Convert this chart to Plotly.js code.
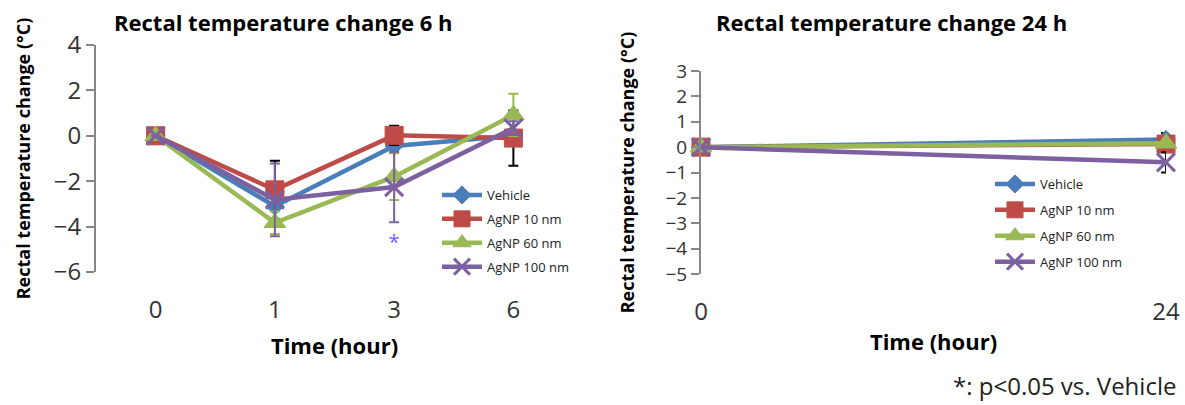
<!DOCTYPE html>
<html>
<head>
<meta charset="utf-8">
<script src="https://cdn.plot.ly/plotly-3.0.1.min.js"></script>
<style>html,body{margin:0;padding:0;background:#fff}#chart{width:1185px;height:405px}</style>
</head>
<body>
<div id="chart"></div>
<script>
// ---- data ----
const seriesNames = ['Vehicle', 'AgNP 10 nm', 'AgNP 60 nm', 'AgNP 100 nm'];
const seriesColors = ['#4a7ebb', '#be4b48', '#98b954', '#7d60a0'];
const seriesSymbols = ['diamond', 'square', 'triangle-up', 'x-thin'];

// 6 h panel
const time6 = ['0', '1', '3', '6'];
const vehicle6 = [0, -3.1, -0.45, 0.0];
const agnp10_6 = [0, -2.38, 0.02, -0.1];
const agnp60_6 = [0, -3.83, -1.8, 0.92];
const agnp100_6 = [0, -2.82, -2.26, 0.34];
const err10_6 = [null, 1.28, 0.42, 1.22];
const err60_6 = [null, 0.5, 1.03, 0.93];
const err100_6 = [null, 1.6, 1.55, 0.3];
const sigTime6 = ['3'];
const sigValue6 = [-4.76];

// 24 h panel
const time24 = [0, 24];
const vehicle24 = [0, 0.3];
const agnp10_24 = [0, 0.12];
const agnp60_24 = [0, 0.15];
const agnp100_24 = [0, -0.6];
const errV_24 = [null, 0.26];
const err100_24 = [null, 0.4];

const footnote = '*: p<0.05 vs. Vehicle';

// ---- layout helpers ----
const W = 1185, H = 405;
const FONT = '"Open Sans", "Noto Sans", sans-serif';
const AXC = '#878787';
const left = {x0: 96, x1: 573, yTop: 45, yBot: 272, yMin: -6, yMax: 4};
const right = {x0: 701, x1: 1166, yTop: 71, yBot: 274, yMin: -5, yMax: 3};
function dom(p) { return {x: [p.x0 / W, p.x1 / W], y: [1 - p.yBot / H, 1 - p.yTop / H]}; }
const dL = dom(left), dR = dom(right);
function zeroPos(p, d) { return d.y[0] + (0 - p.yMin) / (p.yMax - p.yMin) * (d.y[1] - d.y[0]); }

const sets6 = [vehicle6, agnp10_6, agnp60_6, agnp100_6];
const errs6 = [null, err10_6, err60_6, err100_6];
const errColors6 = [null, '#000000', '#98b954', '#7d60a0'];
const sets24 = [vehicle24, agnp10_24, agnp60_24, agnp100_24];
const errs24 = [errV_24, null, null, err100_24];

const traces = [];
function mk(i, xs, ys, xa, ya, lg, err, errColor) {
  const t = {
    type: 'scatter', mode: 'lines+markers', name: seriesNames[i],
    x: xs, y: ys, xaxis: xa, yaxis: ya, legend: lg, legendgroup: lg + i,
    cliponaxis: false,
    line: {color: seriesColors[i], width: 4.5},
    marker: {symbol: seriesSymbols[i], color: seriesColors[i],
      size: [14, 18, 19, 18][i],
      line: {color: seriesColors[i], width: i === 3 ? 3 : 1}}
  };
  if (err) t.error_y = {type: 'data', array: err, visible: true, color: errColor, thickness: 2, width: 5};
  return t;
}
sets6.forEach((s, i) => traces.push(mk(i, time6, s, 'x', 'y', 'legend', errs6[i], errColors6[i])));
sets24.forEach((s, i) => traces.push(mk(i, time24, s, 'x2', 'y2', 'legend2', errs24[i], '#111111')));
traces.push({type: 'scatter', mode: 'text', x: sigTime6, y: sigValue6, text: sigTime6.map(() => '*'),
  xaxis: 'x', yaxis: 'y', showlegend: false, cliponaxis: false,
  textfont: {family: FONT, size: 20, color: '#7b5cff'}});

const titleFont = {family: FONT, size: 22, color: '#000', weight: 'bold'};
const tickFont = {family: FONT, size: 24, color: '#333'};
const tickFontSmall = {family: FONT, size: 19, color: '#333'};
const axTitleFont = {family: FONT, size: 18, color: '#000', weight: 'bold'};
const xTitleFont = {family: FONT, size: 22, color: '#000', weight: 'bold'};
const yTitleText = 'Rectal temperature change (°C)';

const legendBase = {font: {family: FONT, size: 13, color: '#222'}, bgcolor: 'rgba(0,0,0,0)',
  xanchor: 'left', yanchor: 'top', itemwidth: 40};

const layout = {
  width: W, height: H, margin: {l: 0, r: 0, t: 0, b: 0},
  paper_bgcolor: '#fff', plot_bgcolor: 'rgba(0,0,0,0)', showlegend: true,
  xaxis: {domain: dL.x, anchor: 'y', type: 'category', categoryarray: time6,
    range: [-0.5, time6.length - 0.5], showline: false, zeroline: false, showgrid: false,
    ticks: 'outside', ticklen: 16, tickcolor: 'rgba(0,0,0,0)', tickfont: tickFont,
    title: {text: 'Time (hour)', font: xTitleFont, standoff: 14}},
  xaxis3: {overlaying: 'x', anchor: 'free', position: zeroPos(left, dL), range: [-0.5, time6.length - 0.5],
    showline: true, linecolor: AXC, linewidth: 2, showgrid: false, zeroline: false,
    ticks: 'outside', ticklen: 6, tickwidth: 2, tickcolor: AXC,
    tickvals: time6.map((_, i) => i + 0.5), showticklabels: false},
  yaxis: {domain: dL.y, anchor: 'x', range: [left.yMin, left.yMax], dtick: 2,
    showline: true, linecolor: AXC, linewidth: 2, showgrid: false, zeroline: false,
    ticks: 'outside', ticklen: 8, tickwidth: 2, tickcolor: AXC, tickfont: tickFont,
    title: {text: yTitleText, font: axTitleFont, standoff: 18}},
  xaxis2: {domain: dR.x, anchor: 'y2', range: [time24[0], time24[time24.length - 1]],
    tickvals: time24, showline: false, zeroline: false, showgrid: false,
    ticks: 'outside', ticklen: 16, tickcolor: 'rgba(0,0,0,0)', tickfont: tickFont,
    title: {text: 'Time (hour)', font: xTitleFont, standoff: 8}},
  xaxis4: {overlaying: 'x2', anchor: 'free', position: zeroPos(right, dR),
    range: [time24[0], time24[time24.length - 1]],
    showline: true, linecolor: AXC, linewidth: 2, showgrid: false, zeroline: false,
    ticks: '', showticklabels: false},
  yaxis2: {domain: dR.y, anchor: 'x2', range: [right.yMin, right.yMax], dtick: 1,
    showline: true, linecolor: AXC, linewidth: 2, showgrid: false, zeroline: false,
    ticks: 'outside', ticklen: 8, tickwidth: 2, tickcolor: AXC, tickfont: tickFontSmall,
    title: {text: yTitleText, font: axTitleFont, standoff: 26}},
  legend: Object.assign({}, legendBase, {x: 437 / W, y: 1 - 180 / H, tracegroupgap: 4}),
  legend2: Object.assign({}, legendBase, {x: 990 / W, y: 1 - 169 / H, tracegroupgap: 6}),
  annotations: [
    {text: 'Rectal temperature change 6 h', xref: 'paper', yref: 'paper', x: 283 / W, y: 1 - 22 / H,
      xanchor: 'center', yanchor: 'middle', showarrow: false, font: titleFont},
    {text: 'Rectal temperature change 24 h', xref: 'paper', yref: 'paper', x: 891 / W, y: 1 - 22 / H,
      xanchor: 'center', yanchor: 'middle', showarrow: false, font: titleFont},
    {text: footnote, xref: 'paper', yref: 'paper', x: 1178 / W, y: 1 - 385 / H,
      xanchor: 'right', yanchor: 'middle', showarrow: false, font: {family: FONT, size: 24, color: '#222'}}
  ]
};

Plotly.newPlot('chart', traces, layout, {staticPlot: true, displayModeBar: false});
</script>
</body>
</html>
